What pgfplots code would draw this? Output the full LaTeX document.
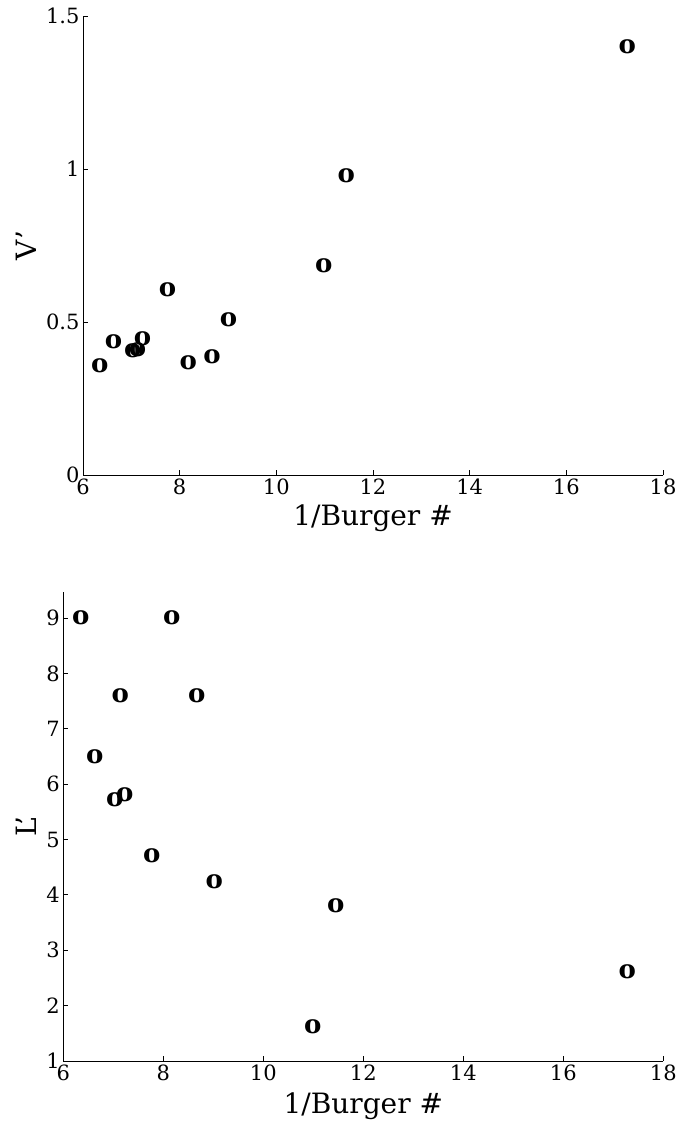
\documentclass[border=0pt]{standalone}
\usepackage{fontspec}
\setmainfont{DejaVu Serif}
\usepackage{pgfplots}
\pgfplotsset{compat=1.18}
\pgfplotstableread{
x y
6.35 0.357
6.63 0.437
7.03 0.405
7.13 0.410
7.23 0.445
7.75 0.606
8.18 0.366
8.67 0.388
9.01 0.508
10.98 0.685
11.45 0.977
17.26 1.398
}\topdata
\pgfplotstableread{
x y
6.35 9.00
6.63 6.50
7.03 5.71
7.14 7.60
7.23 5.80
7.77 4.70
8.17 9.00
8.67 7.60
9.02 4.23
10.99 1.62
11.45 3.81
17.28 2.62
}\botdata
\pgfplotsset{
  myax/.style={
    scale only axis,
    axis x line=bottom, axis y line=left,
    axis line style={-, line width=0.8pt},
    tick align=inside,
    major tick length=5pt,
    tick style={line width=0.8pt, black},
    xmin=6, xmax=18, xtick={6,8,...,18},
    every tick label/.append style={font=\fontsize{21}{21}\selectfont},
    /pgf/number format/assume math mode=true,
    xlabel={1/Burger \#},
    clip=false,
  },
  mymark/.style={only marks, mark=text,
    text mark={\fontsize{26}{26}\bfseries\selectfont o},
    text mark as node=true,
    text mark style={inner sep=0pt, anchor=center}},
}
\begin{document}
\begin{tikzpicture}
\path[use as bounding box] (0pt,0pt) rectangle (679pt,-1127pt);
\begin{axis}[myax,
  at={(83pt,-475pt)}, anchor=south west,
  width=580pt, height=459pt,
  ymin=0, ymax=1.5, ytick={0,0.5,1,1.5},
  ylabel={V'},
  every axis x label/.style={at={(axis description cs:0.5,-0.094)}, anchor=center, font=\fontsize{28}{28}\selectfont},
  every axis y label/.style={at={(axis description cs:-0.0974,0.5)}, anchor=center, rotate=90, font=\fontsize{28}{28}\selectfont},
]
\addplot[mymark] table[x=x,y=y] {\topdata};
\end{axis}
\begin{axis}[myax,
  at={(63.3pt,-1061pt)}, anchor=south west,
  width=600pt, height=469pt,
  ymin=1, ymax=9.47, ytick={1,2,...,9},
  ylabel={L'},
  every axis x label/.style={at={(axis description cs:0.5,-0.096)}, anchor=center, font=\fontsize{28}{28}\selectfont},
  every axis y label/.style={at={(axis description cs:-0.0613,0.5)}, anchor=center, rotate=90, font=\fontsize{28}{28}\selectfont},
]
\addplot[mymark] table[x=x,y=y] {\botdata};
\end{axis}
\end{tikzpicture}
\end{document}
